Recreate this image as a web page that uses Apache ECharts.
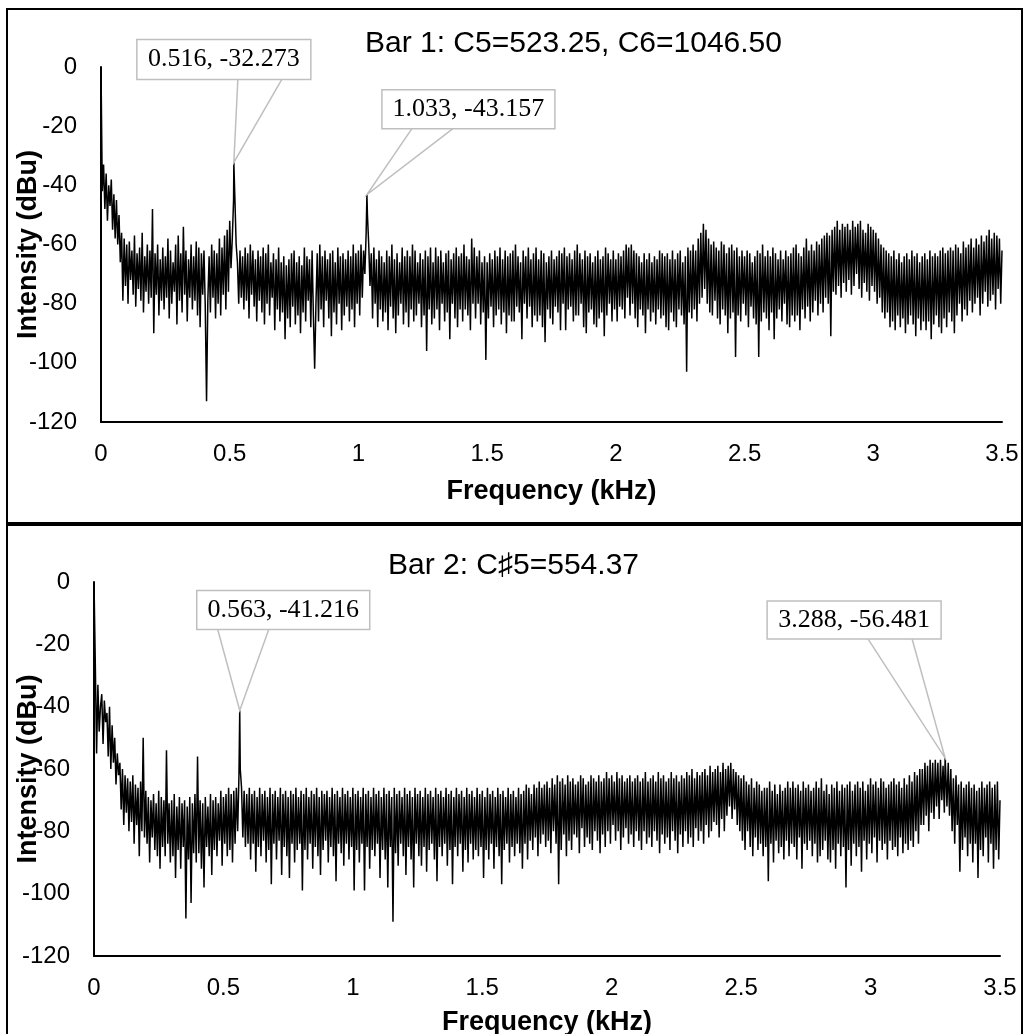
<!DOCTYPE html>
<html>
<head>
<meta charset="utf-8">
<script src="https://cdn.jsdelivr.net/npm/echarts@6/dist/echarts.min.js"></script>
<style>
  html, body { margin: 0; padding: 0; background: #fff; }
  #main { width: 1024px; height: 1034px; }
</style>
</head>
<body>
<div id="main"></div>
<script>
// spectrum sampled every 0.005 kHz from 0 to 3.5 kHz (dBu), read off the picture
// (one row = 0.05 kHz)
var freqStep = 0.005;

var bar1Noise = [
  0, -42, -33, -48, -36, -52, -40, -47, -38, -55,
  -43, -58, -45, -60, -50, -66, -56, -79, -58, -74,
  -60, -80, -59, -72, -62, -77, -57, -81, -63, -75,
  -61, -79, -56, -83, -64, -76, -60, -80, -62, -78,
  -48, -90, -63, -77, -60, -84, -65, -79, -61, -82,
  -64, -78, -58, -85, -62, -80, -66, -76, -60, -87,
  -57, -79, -63, -83, -54, -77, -62, -86, -65, -78,
  -60, -82, -64, -79, -59, -84, -61, -88, -63, -77,
  -62, -81, -113, -79, -64, -83, -60, -78, -62, -85,
  -63, -80, -58, -84, -61, -77, -57, -82, -55, -76,
  -52, -68, -58, -45, -44, -60, -66, -80, -62, -78,
  -64, -82, -61, -79, -63, -85, -60, -77, -62, -81,
  -65, -86, -62, -79, -64, -83, -61, -87, -63, -80,
  -60, -84, -66, -78, -63, -89, -65, -82, -61, -86,
  -66, -83, -64, -92, -67, -85, -65, -88, -63, -81,
  -62, -87, -66, -84, -64, -90, -67, -83, -61, -86,
  -64, -79, -65, -88, -62, -84, -102, -80, -63, -86,
  -60, -82, -64, -88, -62, -79, -65, -85, -63, -91,
  -62, -83, -66, -87, -61, -80, -64, -89, -63, -84,
  -65, -81, -62, -86, -64, -82, -60, -88, -63, -80,
  -62, -84, -60, -78, -62, -70, -56, -50, -60, -74,
  -63, -85, -61, -80, -65, -88, -62, -82, -64, -86,
  -66, -83, -62, -89, -64, -81, -60, -85, -65, -90,
  -63, -84, -66, -80, -61, -87, -64, -83, -62, -88,
  -64, -82, -60, -86, -62, -84, -66, -80, -63, -88,
  -65, -84, -62, -96, -64, -82, -61, -87, -66, -85,
  -61, -82, -64, -89, -62, -80, -66, -86, -63, -83,
  -62, -92, -65, -80, -63, -85, -61, -88, -64, -82,
  -63, -86, -60, -82, -64, -84, -65, -89, -58, -80,
  -61, -85, -64, -80, -62, -87, -66, -83, -64, -99,
  -66, -85, -63, -81, -65, -88, -62, -84, -64, -82,
  -61, -87, -65, -83, -62, -90, -64, -84, -63, -86,
  -62, -86, -60, -81, -64, -83, -66, -92, -62, -80,
  -64, -85, -61, -81, -65, -88, -63, -84, -61, -86,
  -65, -84, -62, -88, -63, -93, -66, -82, -64, -85,
  -62, -87, -65, -81, -64, -83, -62, -89, -63, -80,
  -61, -89, -64, -82, -63, -81, -65, -86, -62, -84,
  -60, -84, -63, -80, -65, -88, -62, -90, -64, -83,
  -63, -82, -66, -87, -64, -88, -62, -85, -65, -83,
  -64, -91, -61, -84, -63, -80, -65, -86, -62, -82,
  -65, -86, -63, -81, -64, -82, -62, -85, -60, -78,
  -61, -84, -60, -80, -62, -85, -63, -88, -64, -82,
  -66, -84, -63, -90, -65, -82, -63, -86, -66, -83,
  -64, -87, -65, -82, -62, -85, -63, -84, -64, -88,
  -63, -89, -65, -83, -62, -86, -65, -88, -63, -82,
  -62, -84, -66, -87, -64, -103, -61, -83, -62, -85,
  -60, -82, -62, -86, -58, -80, -56, -78, -53, -75,
  -55, -80, -58, -83, -60, -84, -59, -79, -61, -85,
  -62, -87, -59, -82, -60, -84, -63, -90, -61, -85,
  -60, -83, -62, -98, -61, -84, -64, -86, -62, -80,
  -64, -84, -62, -88, -63, -81, -66, -85, -64, -87,
  -62, -98, -63, -86, -60, -83, -64, -85, -62, -89,
  -64, -83, -61, -92, -63, -85, -65, -82, -62, -86,
  -65, -80, -62, -87, -64, -88, -63, -84, -61, -86,
  -60, -84, -63, -89, -64, -82, -61, -85, -58, -81,
  -62, -86, -60, -83, -62, -79, -59, -84, -60, -80,
  -58, -83, -57, -78, -56, -80, -57, -91, -55, -76,
  -54, -77, -52, -74, -55, -78, -53, -73, -54, -76,
  -53, -72, -55, -77, -52, -74, -54, -70, -53, -75,
  -52, -78, -55, -73, -56, -76, -53, -79, -54, -74,
  -55, -76, -56, -80, -58, -78, -60, -83, -61, -85,
  -62, -83, -63, -88, -64, -86, -62, -89, -65, -84,
  -63, -88, -66, -85, -64, -90, -63, -87, -65, -84,
  -62, -87, -64, -91, -63, -85, -66, -89, -64, -86,
  -63, -89, -65, -86, -62, -92, -64, -87, -63, -84,
  -64, -88, -62, -90, -61, -85, -63, -88, -62, -83,
  -61, -86, -62, -90, -60, -84, -61, -80, -63, -86,
  -59, -82, -61, -84, -60, -79, -58, -83, -61, -80,
  -58, -78, -60, -84, -57, -80, -59, -76, -57, -81,
  -55, -79, -58, -77, -56, -82, -57, -75, -58, -80,
  -62
];
var bar1PeakFreq = [0.516, 1.033];
var bar1PeakDb = [-32.273, -43.157];

var bar2Noise = [
  0, -26, -55, -33, -48, -40, -36, -52, -38, -45,
  -42, -56, -40, -60, -46, -58, -50, -65, -55, -62,
  -58, -73, -60, -78, -62, -74, -63, -80, -64, -77,
  -62, -84, -65, -78, -66, -88, -64, -80, -50, -82,
  -67, -84, -69, -90, -70, -82, -68, -86, -71, -88,
  -67, -92, -69, -85, -70, -88, -54, -84, -71, -90,
  -70, -88, -68, -95, -72, -86, -69, -92, -71, -85,
  -70, -108, -72, -89, -69, -103, -71, -87, -68, -90,
  -56, -87, -70, -92, -71, -98, -69, -85, -72, -88,
  -68, -94, -70, -86, -69, -88, -71, -83, -67, -91,
  -69, -84, -68, -88, -66, -86, -68, -90, -67, -84,
  -66, -80, -62, -60, -66, -82, -67, -85, -68, -84,
  -66, -89, -68, -84, -67, -93, -69, -85, -66, -88,
  -68, -83, -67, -90, -69, -86, -66, -97, -68, -84,
  -67, -89, -69, -83, -66, -94, -68, -85, -67, -88,
  -69, -95, -67, -84, -68, -90, -66, -86, -69, -84,
  -67, -99, -68, -86, -66, -89, -69, -84, -67, -92,
  -68, -85, -66, -88, -69, -94, -67, -86, -68, -83,
  -67, -90, -69, -85, -66, -88, -68, -96, -67, -84,
  -69, -87, -66, -91, -68, -84, -67, -89, -69, -85,
  -66, -99, -68, -86, -67, -90, -69, -84, -66, -99,
  -68, -85, -67, -92, -69, -86, -66, -88, -68, -84,
  -67, -95, -69, -86, -66, -89, -68, -98, -67, -85,
  -69, -109, -66, -87, -68, -91, -67, -84, -69, -88,
  -66, -94, -68, -85, -67, -89, -69, -98, -66, -84,
  -68, -88, -67, -91, -69, -85, -66, -93, -68, -86,
  -67, -84, -69, -89, -66, -96, -68, -85, -67, -88,
  -69, -84, -66, -91, -68, -86, -67, -97, -69, -85,
  -66, -88, -68, -84, -67, -93, -69, -86, -66, -90,
  -68, -84, -67, -89, -69, -86, -66, -88, -68, -85,
  -67, -95, -69, -86, -66, -89, -68, -84, -67, -92,
  -69, -85, -66, -88, -68, -97, -67, -86, -69, -84,
  -66, -90, -68, -85, -67, -88, -69, -84, -66, -87,
  -68, -92, -67, -84, -65, -89, -66, -83, -68, -86,
  -65, -82, -66, -88, -64, -84, -66, -81, -65, -85,
  -64, -83, -66, -87, -63, -80, -65, -84, -62, -97,
  -64, -86, -63, -81, -65, -88, -62, -83, -64, -86,
  -63, -81, -65, -82, -64, -87, -62, -79, -63, -85,
  -65, -82, -64, -84, -62, -86, -63, -80, -64, -83,
  -62, -87, -64, -81, -63, -85, -61, -80, -63, -84,
  -62, -78, -64, -83, -61, -80, -63, -86, -62, -82,
  -64, -79, -63, -84, -62, -81, -64, -85, -63, -80,
  -62, -83, -64, -86, -63, -80, -61, -84, -64, -82,
  -63, -85, -62, -80, -64, -83, -61, -87, -63, -81,
  -62, -84, -64, -82, -63, -86, -61, -80, -63, -83,
  -62, -87, -64, -81, -62, -85, -63, -80, -61, -84,
  -62, -82, -60, -85, -63, -79, -61, -83, -62, -80,
  -61, -84, -60, -78, -62, -82, -59, -80, -61, -77,
  -60, -78, -59, -82, -61, -76, -58, -80, -60, -75,
  -59, -72, -58, -76, -60, -73, -61, -78, -62, -80,
  -63, -83, -62, -86, -64, -80, -65, -85, -63, -88,
  -66, -82, -64, -86, -65, -84, -67, -88, -66, -85,
  -66, -96, -64, -84, -67, -90, -65, -83, -68, -87,
  -65, -85, -67, -89, -66, -83, -64, -88, -66, -84,
  -64, -85, -66, -89, -65, -82, -67, -92, -64, -84,
  -66, -86, -65, -83, -67, -88, -66, -84, -64, -90,
  -66, -88, -63, -86, -67, -83, -65, -89, -68, -90,
  -65, -86, -66, -92, -64, -84, -67, -88, -65, -85,
  -66, -98, -65, -86, -64, -91, -67, -84, -65, -88,
  -64, -85, -66, -93, -64, -83, -67, -89, -65, -84,
  -63, -87, -65, -82, -64, -90, -66, -83, -63, -86,
  -64, -84, -66, -89, -65, -83, -64, -86, -63, -85,
  -65, -88, -64, -82, -66, -87, -63, -84, -65, -86,
  -62, -83, -64, -85, -61, -80, -62, -84, -60, -78,
  -60, -78, -58, -75, -59, -80, -57, -74, -58, -76,
  -57, -72, -58, -76, -57, -70, -59, -74, -60, -72,
  -58, -75, -60, -80, -63, -84, -62, -78, -65, -93,
  -64, -86, -66, -82, -65, -88, -64, -84, -66, -90,
  -65, -84, -67, -95, -66, -86, -64, -88, -66, -82,
  -65, -90, -64, -84, -66, -92, -65, -86, -64, -89,
  -70
];
var bar2PeakFreq = [0.563, 3.288];
var bar2PeakDb = [-41.216, -56.481];

var xTicks = ['0', '0.5', '1', '1.5', '2', '2.5', '3', '3.5'];

function buildLine(noise, peakFreq, peakDb) {
  var pts = noise.map(function (v, i) { return [+(i * freqStep).toFixed(3), v]; });
  peakFreq.forEach(function (f, i) { pts.push([f, peakDb[i]]); });
  pts.sort(function (a, b) { return a[0] - b[0]; });
  return pts;
}

var chart = echarts.init(document.getElementById('main'), null, { renderer: 'canvas' });

var labelFont = { fontFamily: 'Liberation Sans, Arial, sans-serif', fontSize: 24, color: '#000' };
var nameFont = { fontFamily: 'Liberation Sans, Arial, sans-serif', fontSize: 27, fontWeight: 'bold', color: '#000' };

function xAxisFor(gi, gap) {
  return {
    gridIndex: gi, type: 'value', min: 0, max: 3.5, interval: 0.5,
    name: 'Frequency (kHz)', nameLocation: 'middle', nameGap: gap, nameTextStyle: nameFont, nameMoveOverlap: false,
    axisLine: { show: true, onZero: false, lineStyle: { color: '#000', width: 2 } },
    axisTick: { show: false }, splitLine: { show: false },
    axisLabel: Object.assign({ margin: 20, formatter: function (v) { return xTicks[Math.round(v / 0.5)]; } }, labelFont)
  };
}
function yAxisFor(gi, gap) {
  return {
    gridIndex: gi, type: 'value', min: -120, max: 0, interval: 20,
    name: 'Intensity (dBu)', nameLocation: 'middle', nameGap: gap, nameTextStyle: nameFont, nameMoveOverlap: false,
    axisLine: { show: true, onZero: false, lineStyle: { color: '#000', width: 2 } },
    axisTick: { show: false }, splitLine: { show: false },
    axisLabel: Object.assign({ margin: 24 }, labelFont)
  };
}

chart.setOption({
  animation: false,
  backgroundColor: '#fff',
  title: [
    { text: 'Bar 1: C5=523.25, C6=1046.50', left: 365, top: 29, padding: 0,
      textStyle: { fontFamily: 'Liberation Sans, Arial, sans-serif', fontSize: 30, fontWeight: 'normal', color: '#000' } },
    { text: 'Bar 2: C\u266F5=554.37', left: 388, top: 551, padding: 0,
      textStyle: { fontFamily: 'Liberation Sans, DejaVu Sans, sans-serif', fontSize: 30, fontWeight: 'normal', color: '#000' } }
  ],
  grid: [
    { left: 101, width: 901, top: 67, height: 355, outerBoundsMode: 'none', containLabel: false },
    { left: 94, width: 906, top: 582, height: 374, outerBoundsMode: 'none', containLabel: false }
  ],
  xAxis: [xAxisFor(0, 56), xAxisFor(1, 53)],
  yAxis: [yAxisFor(0, 59), yAxisFor(1, 52)],
  series: [
    { type: 'line', xAxisIndex: 0, yAxisIndex: 0, showSymbol: false, sampling: null,
      lineStyle: { color: '#000', width: 1.5 }, data: buildLine(bar1Noise, bar1PeakFreq, bar1PeakDb) },
    { type: 'line', xAxisIndex: 1, yAxisIndex: 1, showSymbol: false, sampling: null,
      lineStyle: { color: '#000', width: 1.5 }, data: buildLine(bar2Noise, bar2PeakFreq, bar2PeakDb) }
  ]
});

// callout boxes: offsets of box and wedge relative to the peak point
var callouts = [
  { grid: 0, f: bar1PeakFreq[0], v: bar1PeakDb[0], bx: -97, by: -123, w: 174, h: 40, w1: 4, w2: 48 },
  { grid: 0, f: bar1PeakFreq[1], v: bar1PeakDb[1], bx: 15, by: -105, w: 173, h: 39, w1: 45, w2: 86 },
  { grid: 1, f: bar2PeakFreq[0], v: bar2PeakDb[0], bx: -43, by: -120, w: 173, h: 39, w1: -22, w2: 29 },
  { grid: 1, f: bar2PeakFreq[1], v: bar2PeakDb[1], bx: -178, by: -157, w: 174, h: 38, w1: -77, w2: -33 }
];

var gfx = [];
callouts.forEach(function (c) {
  var p = chart.convertToPixel({ gridIndex: c.grid }, [c.f, c.v]);
  var bottom = p[1] + c.by + c.h;
  gfx.push({ type: 'polyline', z: 100, shape: { points: [[p[0] + c.w1, bottom], p, [p[0] + c.w2, bottom]] },
    style: { stroke: '#bfbfbf', lineWidth: 1.5, fill: null } });
  gfx.push({ type: 'rect', z: 101, shape: { x: p[0] + c.bx, y: p[1] + c.by, width: c.w, height: c.h },
    style: { fill: '#fff', stroke: '#bfbfbf', lineWidth: 1.5 } });
  gfx.push({ type: 'text', z: 102, x: p[0] + c.bx + c.w / 2, y: p[1] + c.by + c.h / 2,
    style: { text: c.f.toFixed(3) + ', ' + c.v.toFixed(3), fontFamily: 'Liberation Serif, Times New Roman, serif',
      fontSize: 26, fill: '#000', align: 'center', verticalAlign: 'middle' } });
});

// panel frames
gfx.push({ type: 'rect', z: 0, shape: { x: 7, y: 9, width: 1015, height: 514 }, style: { fill: null, stroke: '#000', lineWidth: 2 } });
gfx.push({ type: 'rect', z: 0, shape: { x: 7, y: 525, width: 1015, height: 514 }, style: { fill: null, stroke: '#000', lineWidth: 2 } });

chart.setOption({ graphic: gfx });
</script>
</body>
</html>
